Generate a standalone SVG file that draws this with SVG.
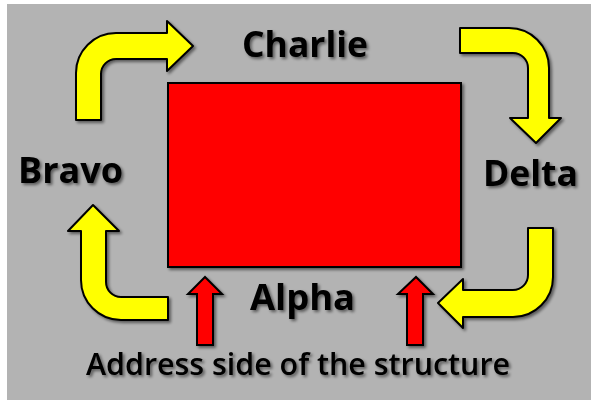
<svg xmlns="http://www.w3.org/2000/svg" width="591" height="400" viewBox="0 0 591 400">
<defs>
<filter id="sh" x="-20%" y="-20%" width="140%" height="140%">
<feGaussianBlur in="SourceAlpha" stdDeviation="1.5"/>
<feOffset dx="2" dy="2" result="b"/>
<feComponentTransfer><feFuncA type="linear" slope="0.5"/></feComponentTransfer>
<feMerge><feMergeNode/><feMergeNode in="SourceGraphic"/></feMerge>
</filter>
</defs>
<style>
.yel{fill:#ffff00;stroke:#000;stroke-width:2;stroke-linejoin:round;filter:url(#sh)}
.red{fill:#ff0000;stroke:#000;stroke-width:2;stroke-linejoin:miter;filter:url(#sh)}
.lbl{font-family:"Open Sans","Liberation Sans",sans-serif;font-weight:bold;font-size:36px;fill:#000;text-anchor:middle;filter:url(#sh)}
.sub{font-family:"Open Sans","Liberation Sans",sans-serif;font-weight:600;font-size:31px;fill:#000;text-anchor:middle;filter:url(#sh)}
</style>
<rect x="0" y="0" width="591" height="400" fill="#ffffff"/>
<rect x="7" y="4" width="584" height="396" fill="#b3b3b3"/>
<g id="structure">
<rect x="168" y="83" width="293" height="184" fill="#ff0000" stroke="#000" stroke-width="2" filter="url(#sh)"/>
</g>
<g id="charlie"><text class="lbl" x="305" y="57" textLength="126" lengthAdjust="spacingAndGlyphs">Charlie</text></g>
<g id="bravo"><text class="lbl" x="70.5" y="183" textLength="105" lengthAdjust="spacingAndGlyphs">Bravo</text></g>
<g id="delta"><text class="lbl" x="530.5" y="186" textLength="95" lengthAdjust="spacingAndGlyphs">Delta</text></g>
<g id="alpha"><text class="lbl" x="302.5" y="310" textLength="105" lengthAdjust="spacingAndGlyphs">Alpha</text></g>
<g id="address"><text class="sub" x="298" y="375" textLength="424" lengthAdjust="spacingAndGlyphs">Address side of the structure</text></g>
<g id="connectors">
<path class="yel" d="M76,120 L76,73 A40,40 0 0 1 116,33 L167,33 L167,21 L193,46 L167,71 L167,59 L116,59 A15,15 0 0 0 101,74 L101,120 Z"/>
<path class="yel" d="M460,28 L509,28 A40,40 0 0 1 549,68 L549,118 L561,118 L536,143 L510,118 L528,118 L528,68 A15,15 0 0 0 513,53 L460,53 Z"/>
<path class="yel" d="M528,228 L553,228 L553,277 A40,40 0 0 1 513,317 L463,317 L463,328 L438,303 L463,279 L463,290 L513,290 A15,15 0 0 0 528,275 Z"/>
<path class="yel" d="M168,297 L121,297 A15,15 0 0 1 106,282 L106,231 L119,231 L93,205 L68,231 L81,231 L81,280 A40,40 0 0 0 121,320 L168,320 Z"/>
<path class="red" d="M197,345 L197,294 L188,294 L205,277 L222,294 L213,294 L213,345 Z"/>
<path class="red" d="M407,345 L407,294 L398,294 L416,277 L433,294 L423,294 L423,345 Z"/>
</g>
</svg>
